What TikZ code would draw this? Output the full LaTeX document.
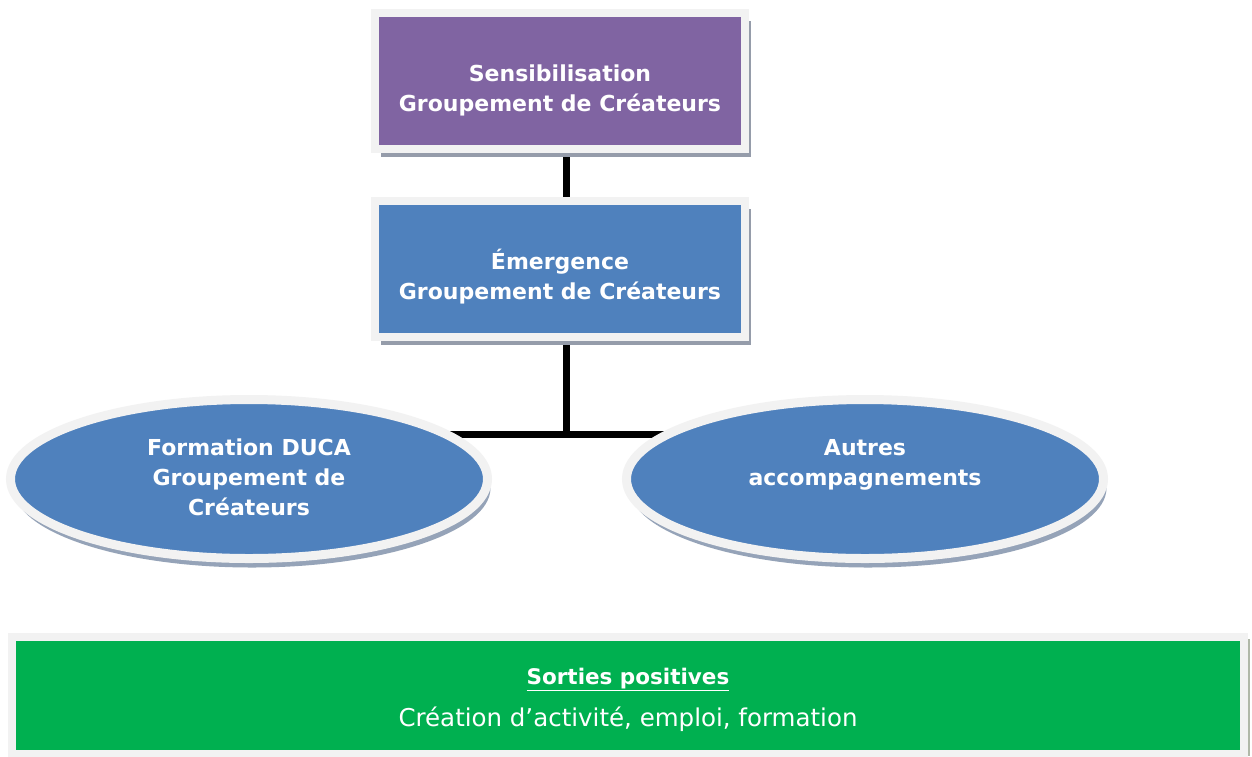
\documentclass[tikz,border=0pt]{standalone}
\usepackage{fontspec}
\setmainfont{DejaVu Sans}
\usetikzlibrary{shapes.geometric,shadows}
\definecolor{purp}{HTML}{8064A2}
\definecolor{blu}{HTML}{4F81BD}
\definecolor{grn}{HTML}{00B050}
\definecolor{frm}{HTML}{F2F2F2}
\definecolor{shd}{HTML}{959CAA}
\definecolor{shdb}{HTML}{95A3B8}
\definecolor{shdg}{HTML}{B0B8A8}
\pgfdeclarelayer{bg}\pgfsetlayers{bg,main}
\begin{document}
\begin{tikzpicture}[x=1pt,y=-1pt,
  boxnode/.style={rectangle, draw=frm, line width=8pt, minimum width=370pt,
    minimum height=136pt, inner sep=0pt,
    drop shadow={shadow xshift=6pt, shadow yshift=-8pt, fill=shd, opacity=1}},
  ovalnode/.style={ellipse, draw=frm, line width=9pt, minimum width=477pt,
    minimum height=159pt, inner sep=0pt, fill=blu,
    drop shadow={shadow xshift=3pt, shadow yshift=-9pt, fill=shdb, opacity=1}},
  boldtext/.style={text=white, align=center, inner sep=0pt,
    font=\bfseries\fontsize{22}{30}\selectfont},
  link/.style={line width=7pt, draw=black}
]
\useasboundingbox (0,0) rectangle (1252,756);

\node[boxnode, fill=purp] (top) at (560,81) {};
\node[boldtext] (toptext) at ([yshift=-9pt]top.center) {Sensibilisation\\Groupement de Créateurs};
\node[boxnode, fill=blu] (mid) at (560,269) {};
\node[boldtext] (midtext) at ([yshift=-8pt]mid.center) {Émergence\\Groupement de Créateurs};

\node[ovalnode] (e1) at (249,479) {};
\node[boldtext] (t1) at (249,477) {Formation DUCA\\Groupement de\\Créateurs};
\node[ovalnode] (e2) at (865,479) {};
\node[boldtext] (t2) at (865,465) {Autres\\accompagnements};

\node[rectangle, draw=frm, line width=8pt, minimum width=1232pt, minimum height=117pt,
  inner sep=0pt, fill=grn,
  drop shadow={shadow xshift=6pt, shadow yshift=-2pt, fill=shdg, opacity=1}]
  (out) at (628,695.5) {};
\node[text=white, align=center, inner sep=0pt] (outt) at (628,700)
  {{\bfseries\fontsize{21.5}{24}\selectfont\underline{Sorties positives}}\\[15pt]
   {\fontsize{24.5}{26}\selectfont Création d’activité, emploi, formation}};

\coordinate (j) at (566,434);
\begin{pgfonlayer}{bg}
  \fill[white] (0,0) rectangle (1252,756);
  \draw[link] (j |- top.south) -- (j |- mid.north);
  \draw[link] (j |- mid.south) -- (j);
  \draw[link] (e1 |- j) -- (e2 |- j);
\end{pgfonlayer}
\end{tikzpicture}
\end{document}
